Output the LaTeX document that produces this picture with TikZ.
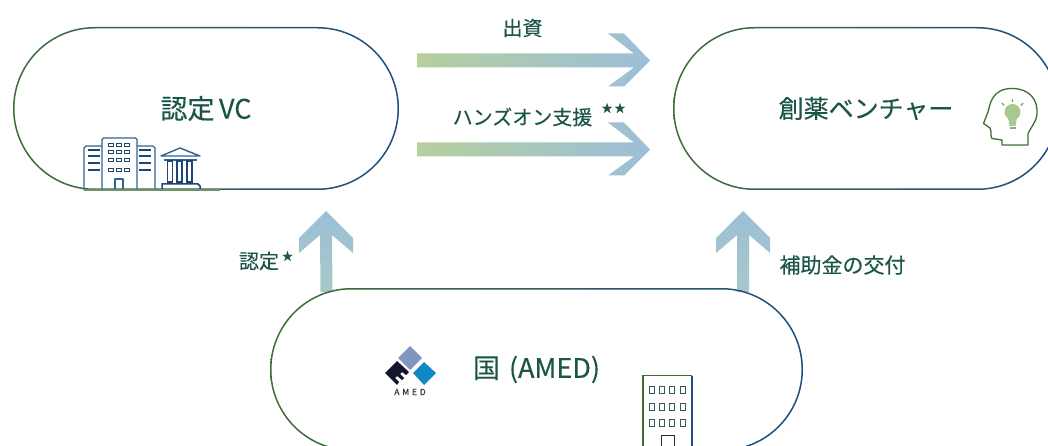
\documentclass[tikz,border=0pt]{standalone}
\usepackage{fontspec}
\setmainfont{Noto Sans CJK JP}[FakeBold=0.25]
\usetikzlibrary{calc}
\definecolor{txt}{HTML}{1B5548}
\definecolor{pillg}{HTML}{3F6E35}
\definecolor{pillb}{HTML}{1E4E80}
\definecolor{arrg}{HTML}{B6CF9C}
\definecolor{arrb}{HTML}{9CBFD8}
\definecolor{arrm}{HTML}{A8C8C8}
\definecolor{bld}{HTML}{2F6494}
\definecolor{bldd}{HTML}{1F4670}
\definecolor{hd}{HTML}{3F6E35}
\definecolor{bulb}{HTML}{A9C88F}
\definecolor{dtop}{HTML}{7F97BC}
\definecolor{dright}{HTML}{0E88C6}
\definecolor{dleft}{HTML}{14142E}
\tikzset{
  pillnode/.style={minimum width=386pt,minimum height=163pt,inner sep=0pt,outer sep=0pt},
  lbl/.style={text=txt,inner sep=0pt,font=\fontsize{20}{24}\selectfont},
  ttl/.style={text=txt,inner sep=0pt,font=\fontsize{25}{28}\selectfont},
  starlbl/.style={text=txt,inner sep=0pt,font=\fontsize{11}{12}\selectfont},
  ring/.style={even odd rule,left color=pillg,right color=pillb},
  harrow/.style={left color=arrg,right color=arrb,middle color=arrb!55!arrg},
  varrow/.style={bottom color=arrm,top color=arrb},
  icon/.style={draw=bld,line width=1.3pt,line join=round},
  win/.style={draw=bldd,line width=1pt},
}
\newcommand{\pillring}[4]{% left top right bottom
  \shade[ring] (#1,#2) [rounded corners=81.5pt] rectangle (#3,#4)
     (#1+1.5,#2+1.5) [rounded corners=80pt] rectangle (#3-1.5,#4-1.5);}
\newcommand{\hblock}[2]{%
  \shade[harrow] ($(#1)+(0,-7)$) -- ($(#2)+(-16,-7)$) -- ($(#2)+(-42,-27)$) -- ($(#2)+(-26,-27)$)
    -- (#2) -- ($(#2)+(-26,26)$) -- ($(#2)+(-42,26)$) -- ($(#2)+(-16,7)$) -- ($(#1)+(0,7)$) -- cycle;}
\newcommand{\vblock}[2]{%
  \shade[varrow] ($(#1)+(-6,0)$) -- ($(#2)+(-6,24)$) -- ($(#2)+(-27,42)$) -- ($(#2)+(-27,27)$)
    -- (#2) -- ($(#2)+(27,27)$) -- ($(#2)+(27,42)$) -- ($(#2)+(6,24)$) -- ($(#1)+(6,0)$) -- cycle;}
\begin{document}
\begin{tikzpicture}[x=1pt,y=-1pt]
\useasboundingbox (0,0) rectangle (1048,446);
\clip (0,0) rectangle (1048,446);
\fill[white] (0,0) rectangle (1048,446);

% named blocks
\node[pillnode,ttl,font=\fontsize{27}{30}\selectfont] (vc) at (206,108.5) {認定\,VC};
\node[pillnode,ttl] (venture) at (866,108.5) {創薬ベンチャー};
\node[pillnode,minimum width=533pt,ttl,font=\fontsize{27}{30}\selectfont] (gov) at (536.5,369.5) {国\,\,(AMED)};

% connectors
\coordinate (f1s) at ($(vc.east)+(18,-48)$);
\coordinate (f1e) at ($(venture.west)+(-23,-48)$);
\coordinate (f2s) at ($(vc.east)+(18,41)$);
\coordinate (f2e) at ($(venture.west)+(-23,41)$);
\coordinate (u1s) at ($(gov.north)+(-210,4)$);
\coordinate (u1e) at ($(vc.south)+(120,21)$);
\coordinate (u2s) at ($(gov.north)+(206.5,4)$);
\coordinate (u2e) at ($(venture.south)+(-123,21)$);
\hblock{f1s}{f1e}
\hblock{f2s}{f2e}
\vblock{u1s}{u1e}
\vblock{u2s}{u2e}

% outlines
\pillring{13}{27}{399}{190}
\pillring{673}{27}{1059}{190}
\pillring{270}{288}{803}{451}

% labels
\node[lbl] (l1) at (522.5,28) {出資};
\node[lbl] (l2) at (522.5,117) {ハンズオン支援};
\node[starlbl] (s2) at (613.5,108) {★\,★};
\node[lbl] (l3) at (259,261) {認定};
\node[starlbl] (s3) at (287.5,256) {★};
\node[lbl,font=\fontsize{21}{24}\selectfont] (l4) at (842.5,265) {補助金の交付};

% office buildings
\draw[icon] (102,190) -- (102,141) [rounded corners=1.5pt] -- (102,138) -- (137,138) [sharp corners] -- (137,190);
\draw[icon] (102,146) -- (86,146) -- (84,148) -- (84,190);
\draw[icon] (137,146) -- (153,146) -- (155,148) -- (155,190);
\draw[icon] (115,190) -- (115,179) -- (123,179) -- (123,190);
\foreach \yy in {145,152,160,170}{
  \foreach \xx in {108,116,124}{
    \draw[win] (\xx,\yy-1.5) rectangle (\xx+5,\yy+1.5);}}
\foreach \yy in {150,156,163,170}{
  \draw[win,line width=1.2pt] (88,\yy) -- (100,\yy) (139,\yy) -- (151,\yy);}
% bank
\draw[icon,line width=1.4pt] (161,156) -- (180,148) -- (200,156) -- cycle;
\draw[icon,line width=1.4pt] (164,160) -- (197,160);
\foreach \xx in {167.5,177,187}{
  \draw[draw=bldd,line width=1.2pt] (\xx,161) rectangle (\xx+5,182);}
\draw[draw=bldd,line width=1.5pt] (162,190) -- (162,184) -- (198,184) -- (200,186) -- (200,190);
\draw[pillg!75!white,line width=1.8pt] (84,190) -- (220,190);

% head icon
\draw[draw=hd,line width=1.3pt,line join=round]
  (1002,145) -- (1002,140) -- (992,138.5)
  .. controls (990,136) and (992,132) .. (990,128)
  -- (983.5,123.5) -- (988,112) .. controls (990,104) and (992,88) .. (1013,88.5)
  .. controls (1030,89) and (1038,100) .. (1037,114)
  .. controls (1036,123) and (1030,128) .. (1028,134) -- (1028,145) -- cycle;
\fill[bulb] (1012.5,112) circle (8);
\fill[bulb] (1008,117) -- (1017,117) -- (1015.5,126) -- (1009.5,126) -- cycle;
\fill[bulb!85!black] (1009.5,127) rectangle (1015.5,129);
\draw[bulb!70!black,line width=1.1pt] (1012.5,99.5) -- (1012.5,102)
  (1002,103) -- (1004,105.5) (1023,103) -- (1021,105.5);

% AMED logo
\fill[dtop] (410,346) -- (422,358) -- (410,370) -- (398,358) -- cycle;
\fill[dright] (424,362) -- (436,373) -- (424,385) -- (413,373) -- cycle;
\fill[dleft] (397,361) -- (409,372) -- (406,375) -- (402,372) -- (400,374) -- (404,378)
   -- (402,380) -- (397,376) -- (395,378) -- (399,382) -- (397,385) -- (385,373) -- cycle;
\node[inner sep=0pt,text=black!80,font=\fontsize{8.5}{9}\selectfont] (amed) at (410,392) {A\,\,M\,\,E\,\,D};

% government building
\draw[draw=pillg,line width=1.2pt] (643,446) -- (643,375.5) -- (692,375.5);
\draw[draw=pillb,line width=1.2pt] (692,375.5) -- (692,446);
\foreach \yy in {389.5,406.5,422.5}{
  \foreach \xx in {652,662,672,683}{
    \draw[draw=pillg!50!pillb,line width=1pt] (\xx-2.8,\yy-3.5) rectangle (\xx+2.8,\yy+3.5);}}
\draw[draw=pillg!50!black,line width=1pt] (661,446) -- (661,435) -- (674,435) -- (674,446);
\end{tikzpicture}
\end{document}
